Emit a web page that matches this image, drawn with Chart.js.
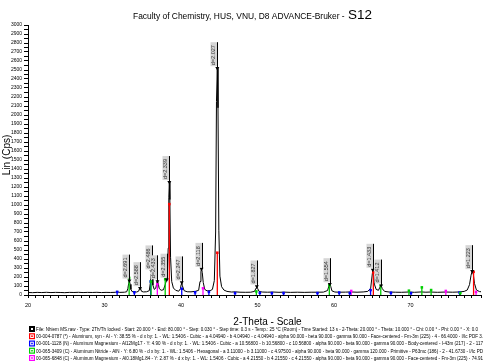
<!DOCTYPE html>
<html><head><meta charset="utf-8">
<script src="https://cdn.jsdelivr.net/npm/chart.js@4.4.0/dist/chart.umd.min.js"></script>
<style>html,body{margin:0;padding:0;background:#fff}</style>
</head><body>
<canvas id="c" width="485" height="364" style="display:block;width:485px;height:364px"></canvas>
<script>
// ---- measured pattern (2-Theta, Lin counts) ----
const patternTheta = [20.0,20.6,21.2,21.8,22.4,23.0,23.6,24.2,24.8,25.4,26.0,26.6,27.2,27.8,28.4,29.0,29.6,30.2,30.8,31.4,31.7,32.0,32.6,32.9,33.05,33.15,33.25,33.35,33.45,33.6,33.9,34.2,34.45,34.57,34.64,34.72,34.85,35.1,35.5,35.85,36.0,36.08,36.14,36.22,36.32,36.5,36.7,36.84,36.92,37.0,37.15,37.4,37.7,37.95,38.08,38.14,38.22,38.32,38.4,38.47,38.54,38.63,38.78,39.0,39.3,39.7,39.92,40.02,40.09,40.18,40.4,40.8,41.3,41.9,42.3,42.48,42.6,42.68,42.77,42.9,43.1,43.4,43.8,44.1,44.35,44.52,44.63,44.74,44.83,44.94,45.08,45.3,45.6,46.0,46.6,47.1,47.7,48.4,49.1,49.6,49.8,49.9,50.0,50.2,50.6,51.3,52.0,52.8,53.5,54.3,55.2,56.1,57.0,57.8,58.6,59.15,59.32,59.44,59.56,59.72,60.1,60.7,61.5,62.2,63.0,63.8,64.4,64.78,64.95,65.06,65.16,65.3,65.5,65.8,66.0,66.15,66.3,66.6,67.2,68.0,68.8,69.7,70.5,71.4,72.0,72.6,73.5,74.6,75.5,76.4,77.0,77.4,77.7,77.9,78.05,78.2,78.35,78.6,79.0,79.5,80.0];
const patternCounts = [28,26,29,27,30,27,29,28,26,29,28,30,27,29,28,30,27,29,28,30,34,29,31,36,70,125,160,118,62,38,35,33,42,68,76,66,40,34,36,48,140,235,262,225,110,62,76,138,152,134,72,52,58,120,162,170,230,520,1080,1255,1060,420,150,78,52,42,70,118,140,102,48,36,35,41,52,150,262,290,252,140,62,46,48,62,160,700,2150,2520,2080,720,210,92,55,40,33,35,31,30,31,40,76,95,74,40,33,31,33,30,32,29,31,29,31,31,32,50,100,120,96,46,33,31,32,34,31,34,40,75,200,280,232,112,62,52,88,105,70,40,33,31,30,33,30,34,31,33,30,33,31,34,40,55,115,220,265,228,128,56,38,33,30];

// ---- labelled peaks ----
const peakTheta  = [33.25,34.64,36.14,36.92,38.14,38.47,40.09,42.68,44.74,49.90,59.44,65.06,66.15,78.05];
const peakCounts = [160,76,262,152,170,1255,140,290,2520,95,120,280,105,265];
const peakLabels = ["d=2.691","d=2.588","d=2.486","d=2.433","d=2.355","d=2.339","d=2.247","d=2.118","d=2.027","d=1.827","d=1.554","d=1.433","d=1.412","d=1.223"];

// ---- reference phase sticks ----
const alTheta = [38.47,44.74,65.13,78.23];
const alCounts = [1010,470,250,258];
const al12Mg17Theta = [31.65,33.90,36.03,40.09,41.84,43.64,47.06,50.30,51.87,53.40,57.83,60.67,62.05,64.77,67.43,70.05,76.40];
const al12Mg17Counts = [35,30,150,70,30,35,22,25,22,22,22,28,22,55,25,22,28];
const alnTheta = [33.22,36.08,37.93,49.84,59.38,66.10,69.78,71.47,72.68,76.50];
const alnCounts = [190,150,175,40,110,100,48,85,55,22];
const almgTheta = [36.90,42.87,62.24,74.60,78.55];
const almgCounts = [120,75,45,45,35];

// ---- texts ----
const chartTitle = "Faculty of Chemistry, HUS, VNU, D8 ADVANCE-Bruker - ";
const sampleName = "S12";
const xTitle = "2-Theta - Scale";
const yTitle = "Lin (Cps)";
const legendTexts = [
 "File: Nhiem MS.raw - Type: 2Th/Th locked - Start: 20.000 \u00b0 - End: 80.000 \u00b0 - Step: 0.030 \u00b0 - Step time: 0.3 s - Temp.: 25 \u00b0C (Room) - Time Started: 13 s - 2-Theta: 20.000 \u00b0 - Theta: 10.000 \u00b0 - Chi: 0.00 \u00b0 - Phi: 0.00 \u00b0 - X: 0.0",
 "00-004-0787 (*) - Aluminum, syn - Al - Y: 38.55 % - d x by: 1. - WL: 1.5406 - Cubic - a 4.04940 - b 4.04940 - c 4.04940 - alpha 90.000 - beta 90.000 - gamma 90.000 - Face-centered - Fm-3m (225) - 4 - 66.4000 - I/Ic PDF 3.",
 "00-001-1128 (N) - Aluminum Magnesium - Al12Mg17 - Y: 4.90 % - d x by: 1. - WL: 1.5406 - Cubic - a 10.56800 - b 10.56800 - c 10.56800 - alpha 90.000 - beta 90.000 - gamma 90.000 - Body-centered - I-43m (217) - 2 - 117",
 "00-065-3409 (C) - Aluminum Nitride - AlN - Y: 6.80 % - d x by: 1. - WL: 1.5406 - Hexagonal - a 3.11000 - b 3.11000 - c 4.97500 - alpha 90.000 - beta 90.000 - gamma 120.000 - Primitive - P63mc (186) - 2 - 41.6730 - I/Ic PD",
 "00-065-6848 (C) - Aluminum Magnesium - Al0.18Mg1.84 - Y: 2.87 % - d x by: 1. - WL: 1.5406 - Cubic - a 4.21550 - b 4.21550 - c 4.21550 - alpha 90.000 - beta 90.000 - gamma 90.000 - Face-centered - Fm-3m (225) - 74.91"
];
const legendColors = ["#000000","#ff0000","#0000ff","#00d000","#ff00ff"];

const FONT = '"Liberation Sans", Arial, sans-serif';

function sticks(th, ct){
  const d = [];
  th.forEach((t,i)=>{ d.push({x:t,y:0},{x:t,y:ct[i]},{x:t,y:null}); });
  return d;
}
function stickSet(th, ct, color, order){
  return {
    data: sticks(th, ct), showLine:true, spanGaps:false, borderColor:color, borderWidth:1.3,
    pointStyle:'rect', backgroundColor:color, pointBorderColor:color, pointBorderWidth:0,
    pointRadius: c => (c.dataIndex % 3 === 1 ? 1.8 : 0), order: order
  };
}

function fitText(ctx, text, x, yb, font, targetW){
  ctx.font = font;
  const w = ctx.measureText(text).width;
  const s = targetW ? targetW / w : 1;
  ctx.save(); ctx.translate(x, yb); ctx.scale(s, 1); ctx.fillText(text, 0, 0); ctx.restore();
}

const overlay = {
  id: 'overlay',
  afterDatasetsDraw(chart){
    const {ctx} = chart; const x = chart.scales.x, y = chart.scales.y;
    ctx.save();
    peakTheta.forEach((t,i)=>{
      const px = Math.round(x.getPixelForValue(t)) + 0.5;
      const py = y.getPixelForValue(peakCounts[i]) - 2;
      const L = 24;
      ctx.fillStyle = '#d6d6d6';
      ctx.fillRect(px - 7, py - L, 6.5, L);
      ctx.strokeStyle = '#000'; ctx.lineWidth = 1;
      ctx.beginPath(); ctx.moveTo(px, py + 2); ctx.lineTo(px, py - L); ctx.stroke();
      ctx.save(); ctx.translate(px - 3.6, py - 1); ctx.rotate(-Math.PI/2);
      ctx.font = '5.5px ' + FONT; ctx.fillStyle = '#333'; ctx.textBaseline = 'middle'; ctx.textAlign = 'left';
      ctx.fillText(peakLabels[i], 0, 0);
      ctx.restore();
    });
    ctx.restore();
  },
  afterDraw(chart){
    const {ctx} = chart;
    ctx.save();
    ctx.fillStyle = '#000'; ctx.textBaseline = 'alphabetic'; ctx.textAlign = 'left';
    // title
    fitText(ctx, chartTitle, 133, 19, '9px ' + FONT, 214);
    fitText(ctx, sampleName, 348, 19, '13px ' + FONT, 24);
    // x title
    ctx.font = '10px ' + FONT; ctx.textAlign = 'center';
    ctx.fillText(xTitle, 267.5, 325);
    // y title
    ctx.save(); ctx.translate(10, 155); ctx.rotate(-Math.PI/2);
    ctx.font = '10px ' + FONT; ctx.textAlign = 'center'; ctx.textBaseline = 'alphabetic';
    ctx.fillText(yTitle, 0, 0); ctx.restore();
    // legend
    ctx.textAlign = 'left';
    const rowY = [329, 336.2, 343.5, 350.7, 358];
    const ends = [478, 483, 483, 483, 483];
    legendTexts.forEach((t,i)=>{
      const cy = rowY[i];
      const col = legendColors[i];
      if (i === 0) {
        ctx.fillStyle = '#000'; ctx.fillRect(29, cy - 3, 6, 6);
        ctx.fillStyle = '#fff'; ctx.fillRect(31, cy - 1, 2, 2);
      } else {
        ctx.fillStyle = col; ctx.fillRect(29, cy - 3, 6, 6);
        ctx.fillStyle = '#fff'; ctx.fillRect(30.2, cy - 1.8, 3.6, 3.6);
        ctx.fillStyle = col; ctx.fillRect(31.2, cy - 0.8, 1.6, 1.6);
      }
      ctx.fillStyle = '#000';
      fitText(ctx, t, 36, cy + 1.8, '5px ' + FONT, ends[i] - 36);
    });
    ctx.restore();
  }
};

const patternData = patternTheta.map((t,i)=>({x:t, y:patternCounts[i]}));
const peakData = peakTheta.map((t,i)=>({x:t, y:peakCounts[i]}));

new Chart(document.getElementById('c'), {
  type: 'scatter',
  data: { datasets: [
    { data: patternData, showLine:true, borderColor:'#000', borderWidth:1, pointRadius:0, tension:0, order:5 },
    stickSet(alTheta, alCounts, '#ff0000', 1),
    stickSet(al12Mg17Theta, al12Mg17Counts, '#0000ff', 3),
    stickSet(alnTheta, alnCounts, '#00d000', 2),
    stickSet(almgTheta, almgCounts, '#ff00ff', 4),
    { data: peakData, showLine:false, pointStyle:'triangle', rotation:180, pointRadius:2.3,
      backgroundColor:'#000', borderColor:'#000', borderWidth:0, order:0 }
  ]},
  options: {
    responsive:false, animation:false, devicePixelRatio:1,
    layout:{ padding:{ left:0, right:1, top:25, bottom:55 } },
    plugins:{ legend:{display:false}, tooltip:{enabled:false}, title:{display:false} },
    scales:{
      x:{ type:'linear', min:20, max:79.2,
        afterFit(s){ s.height = 14; },
        ticks:{ stepSize:1, autoSkip:false, maxRotation:0, padding:4, color:'#000',
          font:{ size:5.5, family:FONT },
          callback: v => (Math.abs(v % 10) < 1e-6 ? String(v) : '') },
        grid:{ drawOnChartArea:false, tickLength:3, color:'#000', lineWidth:1 },
        border:{ color:'#000', width:1 }
      },
      y:{ type:'linear', min:0, max:3000,
        afterFit(s){ s.width = 28; },
        ticks:{ stepSize:50, autoSkip:false, padding:2, color:'#000',
          font:{ size:5, family:FONT },
          callback: v => (Math.abs(v % 100) < 1e-6 ? String(v) : '') },
        grid:{ drawOnChartArea:false, tickLength:4, color:'#000', lineWidth:1 },
        border:{ color:'#000', width:1 }
      }
    }
  },
  plugins:[overlay]
});
</script>
</body></html>
